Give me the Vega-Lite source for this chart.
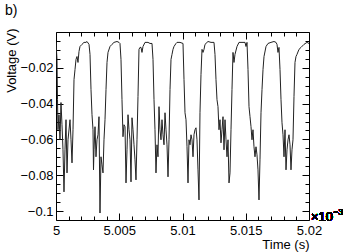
{
  "$schema": "https://vega.github.io/schema/vega-lite/v6.json",
  "width": 253,
  "height": 188,
  "autosize": "none",
  "padding": {"left": 56, "top": 32, "right": 34, "bottom": 32},
  "background": "white",
  "config": {"view": {"stroke": "black", "strokeWidth": 1}, "font": "Liberation Sans"},
  "title": {"text": "b)", "anchor": "start", "frame": "group", "dx": -51, "offset": 10, "fontSize": 14, "fontWeight": "normal", "font": "Liberation Sans", "color": "black"},
  "data": {"values": [
    {"t": 5.000000, "v": -0.0058}, {"t": 5.000079, "v": -0.0153}, {"t": 5.000119, "v": -0.0378}, {"t": 5.000158, "v": -0.0546},
    {"t": 5.000237, "v": -0.0462}, {"t": 5.000316, "v": -0.0602}, {"t": 5.000395, "v": -0.0394}, {"t": 5.000474, "v": -0.0518},
    {"t": 5.000553, "v": -0.0658}, {"t": 5.000632, "v": -0.0893}, {"t": 5.000711, "v": -0.0658}, {"t": 5.000791, "v": -0.0490},
    {"t": 5.000870, "v": -0.0787}, {"t": 5.000949, "v": -0.0602}, {"t": 5.001107, "v": -0.0490}, {"t": 5.001186, "v": -0.0602},
    {"t": 5.001265, "v": -0.0731}, {"t": 5.001344, "v": -0.0546}, {"t": 5.001423, "v": -0.0266}, {"t": 5.001502, "v": -0.0210},
    {"t": 5.001581, "v": -0.0153}, {"t": 5.001660, "v": -0.0137}, {"t": 5.001739, "v": -0.0170}, {"t": 5.001818, "v": -0.0109},
    {"t": 5.001897, "v": -0.0081}, {"t": 5.002055, "v": -0.0069}, {"t": 5.002213, "v": -0.0058}, {"t": 5.002372, "v": -0.0058},
    {"t": 5.002451, "v": -0.0053}, {"t": 5.002609, "v": -0.0069}, {"t": 5.002688, "v": -0.0125}, {"t": 5.002767, "v": -0.0322},
    {"t": 5.002846, "v": -0.0462}, {"t": 5.002925, "v": -0.0546}, {"t": 5.002964, "v": -0.0770}, {"t": 5.003004, "v": -0.0658},
    {"t": 5.003083, "v": -0.0529}, {"t": 5.003162, "v": -0.0697}, {"t": 5.003241, "v": -0.0602}, {"t": 5.003320, "v": -0.0574},
    {"t": 5.003399, "v": -0.0473}, {"t": 5.003478, "v": -0.1011}, {"t": 5.003557, "v": -0.0697}, {"t": 5.003636, "v": -0.0742},
    {"t": 5.003715, "v": -0.0787}, {"t": 5.003794, "v": -0.0602}, {"t": 5.003874, "v": -0.0490}, {"t": 5.003953, "v": -0.0322},
    {"t": 5.004032, "v": -0.0170}, {"t": 5.004111, "v": -0.0114}, {"t": 5.004269, "v": -0.0081}, {"t": 5.004427, "v": -0.0069},
    {"t": 5.004585, "v": -0.0058}, {"t": 5.004822, "v": -0.0053}, {"t": 5.004980, "v": -0.0058},
    {"t": 5.005059, "v": -0.0064}, {"t": 5.005138, "v": -0.0153}, {"t": 5.005217, "v": -0.0378}, {"t": 5.005296, "v": -0.0585},
    {"t": 5.005375, "v": -0.0518}, {"t": 5.005455, "v": -0.0529}, {"t": 5.005534, "v": -0.0843}, {"t": 5.005613, "v": -0.0658},
    {"t": 5.005692, "v": -0.0462}, {"t": 5.005771, "v": -0.0546}, {"t": 5.005850, "v": -0.0602}, {"t": 5.005929, "v": -0.0837},
    {"t": 5.006008, "v": -0.0479}, {"t": 5.006087, "v": -0.0546}, {"t": 5.006166, "v": -0.0630}, {"t": 5.006245, "v": -0.0714},
    {"t": 5.006324, "v": -0.0826}, {"t": 5.006403, "v": -0.0602}, {"t": 5.006482, "v": -0.0361}, {"t": 5.006561, "v": -0.0097},
    {"t": 5.006640, "v": -0.0086}, {"t": 5.006719, "v": -0.0086}, {"t": 5.006798, "v": -0.0114}, {"t": 5.006877, "v": -0.0081},
    {"t": 5.007036, "v": -0.0058}, {"t": 5.007273, "v": -0.0058}, {"t": 5.007431, "v": -0.0064}, {"t": 5.007589, "v": -0.0064},
    {"t": 5.007668, "v": -0.0153}, {"t": 5.007747, "v": -0.0378}, {"t": 5.007826, "v": -0.0546}, {"t": 5.007905, "v": -0.0787},
    {"t": 5.007984, "v": -0.0630}, {"t": 5.008063, "v": -0.0697}, {"t": 5.008142, "v": -0.0417}, {"t": 5.008221, "v": -0.0546},
    {"t": 5.008300, "v": -0.0602}, {"t": 5.008379, "v": -0.0490}, {"t": 5.008458, "v": -0.0574}, {"t": 5.008538, "v": -0.0630},
    {"t": 5.008617, "v": -0.0451}, {"t": 5.008696, "v": -0.0546}, {"t": 5.008775, "v": -0.0630}, {"t": 5.008854, "v": -0.0809},
    {"t": 5.008933, "v": -0.0602}, {"t": 5.009012, "v": -0.0322}, {"t": 5.009091, "v": -0.0153}, {"t": 5.009170, "v": -0.0125},
    {"t": 5.009249, "v": -0.0097}, {"t": 5.009328, "v": -0.0081}, {"t": 5.009486, "v": -0.0064}, {"t": 5.009565, "v": -0.0058},
    {"t": 5.009802, "v": -0.0058}, {"t": 5.010040, "v": -0.0064},
    {"t": 5.010119, "v": -0.0266}, {"t": 5.010198, "v": -0.0451}, {"t": 5.010277, "v": -0.0490}, {"t": 5.010356, "v": -0.0641},
    {"t": 5.010435, "v": -0.0843}, {"t": 5.010514, "v": -0.0602}, {"t": 5.010593, "v": -0.0630}, {"t": 5.010672, "v": -0.0574},
    {"t": 5.010751, "v": -0.0602}, {"t": 5.010830, "v": -0.0697}, {"t": 5.010909, "v": -0.0574}, {"t": 5.010988, "v": -0.0546},
    {"t": 5.011067, "v": -0.0535}, {"t": 5.011146, "v": -0.0602}, {"t": 5.011225, "v": -0.0770}, {"t": 5.011304, "v": -0.0938},
    {"t": 5.011383, "v": -0.0451}, {"t": 5.011462, "v": -0.0238}, {"t": 5.011542, "v": -0.0097}, {"t": 5.011621, "v": -0.0114},
    {"t": 5.011700, "v": -0.0097}, {"t": 5.011779, "v": -0.0069}, {"t": 5.012016, "v": -0.0053}, {"t": 5.012253, "v": -0.0058},
    {"t": 5.012490, "v": -0.0058}, {"t": 5.012569, "v": -0.0125}, {"t": 5.012648, "v": -0.0266}, {"t": 5.012727, "v": -0.0378},
    {"t": 5.012806, "v": -0.0417}, {"t": 5.012885, "v": -0.0546}, {"t": 5.012964, "v": -0.0490}, {"t": 5.013043, "v": -0.0619},
    {"t": 5.013123, "v": -0.0546}, {"t": 5.013202, "v": -0.0473}, {"t": 5.013281, "v": -0.0658}, {"t": 5.013360, "v": -0.0490},
    {"t": 5.013439, "v": -0.0602}, {"t": 5.013518, "v": -0.0697}, {"t": 5.013597, "v": -0.0602}, {"t": 5.013676, "v": -0.0843},
    {"t": 5.013755, "v": -0.0787}, {"t": 5.013834, "v": -0.0546}, {"t": 5.013913, "v": -0.0322}, {"t": 5.013992, "v": -0.0114},
    {"t": 5.014071, "v": -0.0170}, {"t": 5.014150, "v": -0.0125}, {"t": 5.014308, "v": -0.0081}, {"t": 5.014466, "v": -0.0058},
    {"t": 5.014704, "v": -0.0058}, {"t": 5.014941, "v": -0.0058}, {"t": 5.015020, "v": -0.0081}, {"t": 5.015099, "v": -0.0058},
    {"t": 5.015178, "v": -0.0210}, {"t": 5.015257, "v": -0.0417}, {"t": 5.015336, "v": -0.0473}, {"t": 5.015415, "v": -0.0529},
    {"t": 5.015494, "v": -0.0602}, {"t": 5.015573, "v": -0.0546}, {"t": 5.015652, "v": -0.0641}, {"t": 5.015731, "v": -0.0697},
    {"t": 5.015810, "v": -0.0641}, {"t": 5.015889, "v": -0.0686}, {"t": 5.015968, "v": -0.0770}, {"t": 5.016047, "v": -0.0938},
    {"t": 5.016126, "v": -0.0714}, {"t": 5.016206, "v": -0.0451}, {"t": 5.016285, "v": -0.0322}, {"t": 5.016364, "v": -0.0210},
    {"t": 5.016443, "v": -0.0137}, {"t": 5.016601, "v": -0.0081}, {"t": 5.016759, "v": -0.0064}, {"t": 5.016996, "v": -0.0058},
    {"t": 5.017233, "v": -0.0053}, {"t": 5.017391, "v": -0.0058}, {"t": 5.017470, "v": -0.0069}, {"t": 5.017549, "v": -0.0114},
    {"t": 5.017628, "v": -0.0086}, {"t": 5.017708, "v": -0.0210}, {"t": 5.017787, "v": -0.0378}, {"t": 5.017866, "v": -0.0507},
    {"t": 5.017945, "v": -0.0574}, {"t": 5.018024, "v": -0.0697}, {"t": 5.018103, "v": -0.0546}, {"t": 5.018182, "v": -0.0770},
    {"t": 5.018261, "v": -0.0658}, {"t": 5.018340, "v": -0.0602}, {"t": 5.018419, "v": -0.0574}, {"t": 5.018498, "v": -0.0630},
    {"t": 5.018577, "v": -0.0770}, {"t": 5.018656, "v": -0.0658}, {"t": 5.018735, "v": -0.0602}, {"t": 5.018814, "v": -0.0361},
    {"t": 5.018893, "v": -0.0170}, {"t": 5.018972, "v": -0.0137}, {"t": 5.019051, "v": -0.0125}, {"t": 5.019209, "v": -0.0097},
    {"t": 5.019368, "v": -0.0086}, {"t": 5.019605, "v": -0.0069}, {"t": 5.019842, "v": -0.0058}, {"t": 5.020000, "v": -0.0064}
  ]},
  "layer": [
    {
      "mark": {"type": "line", "stroke": "#222222", "strokeWidth": 1, "clip": true},
      "encoding": {
        "x": {"field": "t", "type": "quantitative",
          "scale": {"domain": [5, 5.02], "nice": false, "zero": false},
          "axis": {"orient": "bottom", "domain": false, "grid": false,
            "values": [5, 5.001, 5.002, 5.003, 5.004, 5.005, 5.006, 5.007, 5.008, 5.009, 5.01, 5.011, 5.012, 5.013, 5.014, 5.015, 5.016, 5.017, 5.018, 5.019, 5.02],
            "tickSize": {"condition": {"test": "round(datum.value*1000) % 5 === 0", "value": -7}, "value": -4},
            "tickColor": "black", "tickWidth": 1,
            "labelExpr": "round(datum.value*1000) % 5 === 0 ? format(datum.value, '~g') : ''",
            "labelFontSize": 13, "labelColor": "black", "labelPadding": 11, "labelFlush": false, "labelOverlap": false,
            "title": "Time (s)", "titleFontSize": 13, "titleFontWeight": "normal", "titleColor": "black",
            "titleAnchor": "end", "titleAlign": "right", "titleBaseline": "alphabetic", "titleX": 253, "titleY": 28}},
        "y": {"field": "v", "type": "quantitative",
          "scale": {"domain": [-0.105, 0], "nice": false, "zero": false},
          "axis": {"orient": "left", "domain": false, "grid": false,
            "values": [-0.1, -0.095, -0.09, -0.085, -0.08, -0.075, -0.07, -0.065, -0.06, -0.055, -0.05, -0.045, -0.04, -0.035, -0.03, -0.025, -0.02, -0.015, -0.01, -0.005],
            "tickSize": {"condition": {"test": "round(datum.value*1000) % 20 === 0", "value": -7}, "value": -4},
            "tickColor": "black", "tickWidth": 1,
            "labelExpr": "round(datum.value*1000) % 20 === 0 ? format(datum.value, '~g') : ''",
            "labelFontSize": 13, "labelColor": "black", "labelPadding": 10, "labelOverlap": false, "labelFlush": false,
            "title": "Voltage (V)", "titleFontSize": 13, "titleFontWeight": "normal", "titleColor": "black",
            "titleAnchor": "end", "titleAlign": "right", "titleBaseline": "bottom", "titleAngle": -90, "titleX": -38, "titleY": -4}}
      }
    },
    {
      "mark": {"type": "line", "opacity": 0},
      "encoding": {
        "x": {"field": "t", "type": "quantitative",
          "axis": {"orient": "top", "domain": false, "grid": false, "labels": false, "title": null,
            "values": [5, 5.001, 5.002, 5.003, 5.004, 5.005, 5.006, 5.007, 5.008, 5.009, 5.01, 5.011, 5.012, 5.013, 5.014, 5.015, 5.016, 5.017, 5.018, 5.019, 5.02],
            "tickSize": {"condition": {"test": "round(datum.value*1000) % 5 === 0", "value": -7}, "value": -4},
            "tickColor": "black", "tickWidth": 1}},
        "y": {"field": "v", "type": "quantitative",
          "axis": {"orient": "right", "domain": false, "grid": false, "labels": false, "title": null,
            "values": [-0.1, -0.095, -0.09, -0.085, -0.08, -0.075, -0.07, -0.065, -0.06, -0.055, -0.05, -0.045, -0.04, -0.035, -0.03, -0.025, -0.02, -0.015, -0.01, -0.005],
            "tickSize": {"condition": {"test": "round(datum.value*1000) % 20 === 0", "value": -7}, "value": -4},
            "tickColor": "black", "tickWidth": 1}}
      }
    },
    {
      "mark": {"type": "text", "align": "left", "baseline": "alphabetic", "dx": 2, "dy": 1, "fontSize": 13, "font": "Liberation Sans", "color": "black"},
      "encoding": {
        "x": {"datum": 5.02, "type": "quantitative", "axis": null},
        "y": {"datum": -0.105, "type": "quantitative", "axis": null},
        "text": {"value": "×10"}
      }
    },
    {
      "mark": {"type": "text", "align": "left", "baseline": "alphabetic", "dx": 24, "dy": -5, "fontSize": 9, "font": "Liberation Sans", "color": "black"},
      "encoding": {
        "x": {"datum": 5.02, "type": "quantitative", "axis": null},
        "y": {"datum": -0.105, "type": "quantitative", "axis": null},
        "text": {"value": "−3"}
      }
    }
  ],
  "resolve": {"axis": {"x": "independent", "y": "independent"}}
}
